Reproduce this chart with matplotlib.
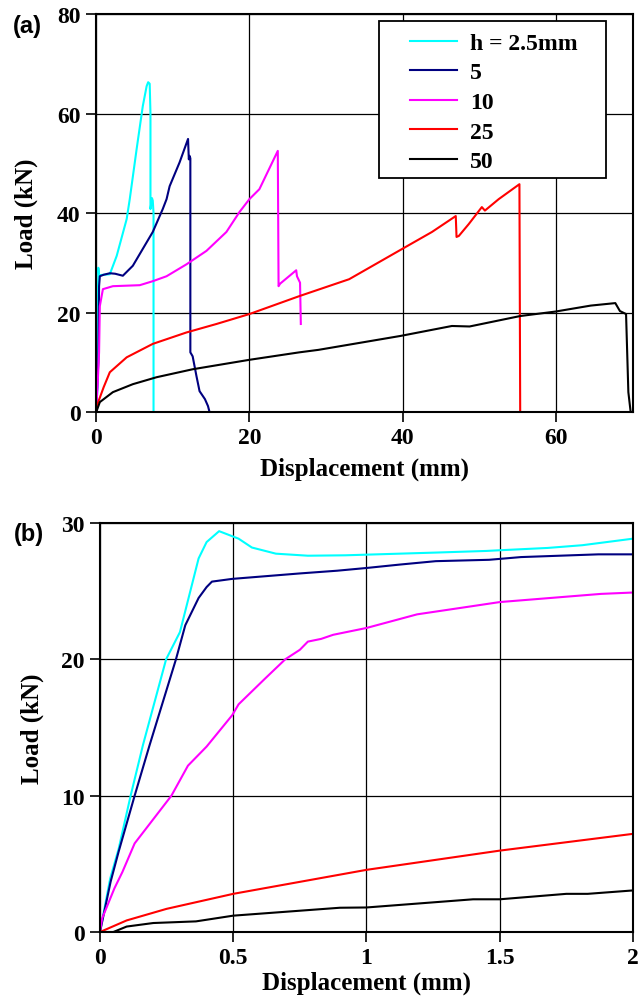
import matplotlib.pyplot as plt
from matplotlib.patches import Rectangle

# ---- panel (a): full load-displacement curves ----
x_h25 = [0, 0.2, 0.2, 0.3, 0.3, 0.4, 1.0, 1.8, 2.7, 4.0, 4.4, 5.3, 6.1, 6.6, 6.8, 7.0, 7.1, 7.1, 7.3, 7.4, 7.5, 7.5]
y_h25 = [0, 5, 23, 27, 29, 27.5, 27.6, 27.7, 31.4, 38.8, 42.8, 52.9, 61.5, 65.5, 66.3, 66.0, 60, 40.8, 43, 42.5, 40, 0]

x_h5 = [0, 0.3, 0.4, 0.5, 1.0, 1.8, 2.5, 3.5, 4.8, 6.1, 7.4, 8.7, 9.2, 9.6, 10.9, 12.0, 12.1, 12.2, 12.3, 12.3, 12.6, 13.1, 13.5, 14.2, 14.6, 14.8]
y_h5 = [0, 10, 25.3, 27.3, 27.6, 27.9, 27.8, 27.4, 29.4, 32.8, 36.2, 40.8, 42.8, 45.4, 50.2, 54.9, 50.8, 51.5, 51.0, 12, 11.2, 7.2, 4.2, 2.6, 1.2, 0]

x_h10 = [0, 0.2, 0.4, 0.5, 0.9, 2.2, 5.7, 7.4, 9.2, 11.8, 14.4, 17.0, 18.7, 20.0, 21.3, 23.7, 23.8, 24.0, 26.1, 26.2, 26.6, 26.7]
y_h10 = [0, 5, 12, 21.3, 24.7, 25.3, 25.5, 26.3, 27.3, 29.7, 32.4, 36.2, 40.2, 42.8, 44.8, 52.5, 25.3, 25.8, 28.5, 27.3, 26.0, 17.7]

x_h25b = [0, 0.1, 1.0, 1.8, 4.0, 7.4, 11.8, 15.7, 20.0, 26.5, 33.0, 39.7, 43.8, 46.9, 47.0, 47.3, 48.6, 50.3, 50.7, 52.5, 55.2, 55.3]
y_h25b = [0, 1.2, 5.0, 8.0, 11.0, 13.7, 16.0, 17.7, 19.7, 23.3, 26.7, 32.6, 36.2, 39.4, 35.2, 35.4, 37.8, 41.2, 40.5, 42.8, 45.8, 0]

x_h50 = [0, 0.1, 0.5, 2.2, 4.8, 7.9, 12.6, 20.0, 26.5, 29.0, 39.7, 46.4, 48.7, 55.3, 59.9, 64.5, 67.7, 68.3, 69.1, 69.4, 69.7]
y_h50 = [0, 0.3, 2.0, 4.0, 5.6, 7.0, 8.6, 10.5, 12.0, 12.5, 15.3, 17.3, 17.2, 19.3, 20.2, 21.4, 21.9, 20.3, 19.7, 4.0, 0]

# ---- panel (b): initial part (0-2 mm) ----
xb_h25 = [0, 0.038, 0.07, 0.115, 0.161, 0.248, 0.30, 0.37, 0.40, 0.447, 0.52, 0.57, 0.66, 0.78, 0.92, 1.26, 1.45, 1.5, 1.68, 1.81, 2.0]
yb_h25 = [0, 3.9, 6.1, 10.0, 13.7, 20.0, 22.0, 27.4, 28.6, 29.4, 28.85, 28.2, 27.75, 27.6, 27.63, 27.83, 27.95, 28.0, 28.17, 28.37, 28.85]

xb_h5 = [0, 0.04, 0.07, 0.13, 0.186, 0.285, 0.32, 0.37, 0.40, 0.42, 0.496, 0.75, 0.82, 0.89, 1.0, 1.125, 1.26, 1.46, 1.58, 1.87, 2.0]
yb_h5 = [0, 3.7, 5.9, 10.0, 13.7, 20.0, 22.5, 24.5, 25.3, 25.7, 25.9, 26.3, 26.4, 26.5, 26.7, 26.95, 27.2, 27.3, 27.5, 27.7, 27.7]

xb_h10 = [0, 0.008, 0.054, 0.084, 0.13, 0.268, 0.33, 0.40, 0.496, 0.52, 0.62, 0.695, 0.75, 0.78, 0.83, 0.875, 1.0, 1.19, 1.38, 1.5, 1.69, 1.88, 2.0]
yb_h10 = [0, 1.0, 3.2, 4.4, 6.5, 10.0, 12.2, 13.6, 15.9, 16.7, 18.6, 20.0, 20.7, 21.3, 21.5, 21.8, 22.3, 23.3, 23.85, 24.2, 24.5, 24.8, 24.9]

xb_h25b = [0, 0.1, 0.25, 0.5, 1.0, 1.5, 2.0]
yb_h25b = [0, 0.85, 1.7, 2.8, 4.56, 5.97, 7.2]

xb_h50 = [0, 0.05, 0.1, 0.2, 0.36, 0.5, 0.9, 1.0, 1.4, 1.5, 1.75, 1.83, 2.0]
yb_h50 = [0, 0, 0.4, 0.66, 0.78, 1.2, 1.78, 1.8, 2.4, 2.4, 2.8, 2.8, 3.05]

labels = ['h = 2.5mm', '5', '10', '25', '50']
colors = ['#00FFFF', '#000080', '#FF00FF', '#FF0000', '#000000']

plt.rcParams['font.family'] = ['Liberation Serif', 'DejaVu Serif']
plt.rcParams['font.weight'] = 'bold'

fig = plt.figure(figsize=(6.4, 10.04), dpi=100)
ax1 = fig.add_axes([0.15, 0.5886, 0.839, 0.3964])
ax2 = fig.add_axes([0.15625, 0.0707, 0.8328, 0.4074])

# top panel
data_a = [(x_h25, y_h25), (x_h5, y_h5), (x_h10, y_h10), (x_h25b, y_h25b), (x_h50, y_h50)]
for (x, y), c, lab in zip(data_a, colors, labels):
    ax1.plot(x, y, color=c, lw=1.5, label=lab)
ax1.set_xlim(0, 70)
ax1.set_ylim(0, 80)
ax1.set_xticks([0, 20, 40, 60])
ax1.set_yticks([0, 20, 40, 60, 80])
ax1.set_xlabel('Displacement (mm)', fontsize=18, fontweight='bold', labelpad=6)
ax1.set_ylabel('Load (kN)', fontsize=18, fontweight='bold', labelpad=14)

# legend box drawn separately (wider side padding than matplotlib's frame)
ax1.add_patch(Rectangle((0.527, 0.588), 0.423, 0.394, transform=ax1.transAxes,
                        facecolor='white', edgecolor='black', lw=1.3, zorder=4))
leg = ax1.legend(loc='upper left', bbox_to_anchor=(0.585, 0.954), fontsize=17,
                 frameon=False, handlelength=2.0, handletextpad=0.55,
                 labelspacing=0.34, borderpad=0, borderaxespad=0)
leg.set_zorder(5)
ax1.text(-0.10, 0.972, '(a)', transform=ax1.transAxes, fontsize=17,
         fontweight='bold', family='Liberation Sans', va='center', ha='right')

# bottom panel
data_b = [(xb_h25, yb_h25), (xb_h5, yb_h5), (xb_h10, yb_h10), (xb_h25b, yb_h25b), (xb_h50, yb_h50)]
for (x, y), c in zip(data_b, colors):
    ax2.plot(x, y, color=c, lw=1.5)
ax2.set_xlim(0, 2)
ax2.set_ylim(0, 30)
ax2.set_xticks([0, 0.5, 1, 1.5, 2])
ax2.set_xticklabels(['0', '0.5', '1', '1.5', '2'])
ax2.set_yticks([0, 10, 20, 30])
ax2.set_xlabel('Displacement (mm)', fontsize=18, fontweight='bold', labelpad=2)
ax2.set_ylabel('Load (kN)', fontsize=18, fontweight='bold', labelpad=12)
ax2.text(-0.105, 0.975, '(b)', transform=ax2.transAxes, fontsize=17,
         fontweight='bold', family='Liberation Sans', va='center', ha='right')

for ax in (ax1, ax2):
    ax.grid(True, color='black', lw=0.9)
    ax.set_axisbelow(True)
    for s in ax.spines.values():
        s.set_linewidth(1.5)
    ax.tick_params(direction='out', length=7, width=1.2, labelsize=17, pad=4)
    for t in ax.get_xticklabels() + ax.get_yticklabels():
        t.set_fontweight('bold')

fig.savefig('out.png', dpi=100)
